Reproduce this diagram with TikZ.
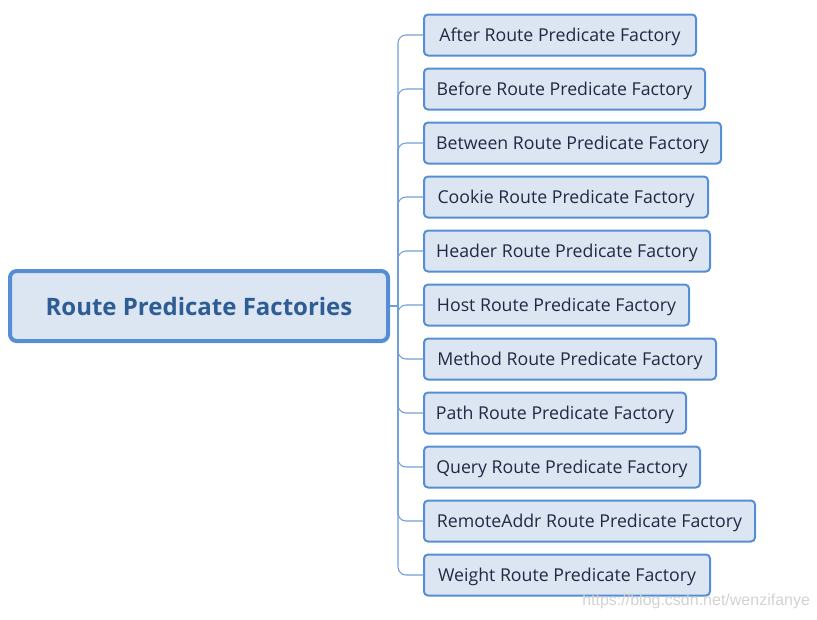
\documentclass[tikz,border=0pt]{standalone}
\usepackage{fontspec}
\setmainfont{Open Sans}
\setsansfont{Liberation Sans}
\definecolor{edgeblue}{HTML}{558ED5}
\definecolor{fillblue}{HTML}{DCE6F2}
\definecolor{roottext}{HTML}{2E5C94}
\definecolor{childtext}{HTML}{1F2A44}
\definecolor{linkblue}{HTML}{6F9FD8}
\definecolor{wmgray}{HTML}{D2D2D2}
\tikzset{
  rootbox/.style={draw=edgeblue, line width=3pt, fill=fillblue, rounded corners=5pt,
    minimum width=378*0.75pt, minimum height=70*0.75pt, inner sep=0pt,
    font=\fontsize{18pt}{21pt}\selectfont\bfseries, text=roottext},
  childbox/.style={draw=edgeblue, line width=1.5pt, fill=fillblue, rounded corners=3pt,
    minimum height=41*0.75pt, inner sep=0pt, anchor=west,
    text height=13.6pt, text depth=3.2pt,
    font=\fontsize{13.3pt}{16pt}\selectfont, text=childtext},
  link/.style={draw=linkblue, line width=0.8pt, rounded corners=6pt},
}
\begin{document}
\begin{tikzpicture}[x=0.75pt,y=-0.75pt]
\useasboundingbox (0,0) rectangle (817,619);
\node[rootbox] (root) at (199,306) {Route Predicate Factories};
\coordinate (spine) at (398,306);
\node[childbox, minimum width=272*0.75pt] (c1) at (423,35) {After Route Predicate Factory};
\node[childbox, minimum width=281*0.75pt] (c2) at (423,89) {Before Route Predicate Factory};
\node[childbox, minimum width=297*0.75pt] (c3) at (423,143) {Between Route Predicate Factory};
\node[childbox, minimum width=284*0.75pt] (c4) at (423,197) {Cookie Route Predicate Factory};
\node[childbox, minimum width=286*0.75pt] (c5) at (423,251) {Header Route Predicate Factory};
\node[childbox, minimum width=265*0.75pt] (c6) at (423,305) {Host Route Predicate Factory};
\node[childbox, minimum width=292*0.75pt] (c7) at (423,359) {Method Route Predicate Factory};
\node[childbox, minimum width=262*0.75pt] (c8) at (423,413) {Path Route Predicate Factory};
\node[childbox, minimum width=276*0.75pt] (c9) at (423,467) {Query Route Predicate Factory};
\node[childbox, minimum width=331*0.75pt] (c10) at (423,521) {RemoteAddr Route Predicate Factory};
\node[childbox, minimum width=286*0.75pt] (c11) at (423,575) {Weight Route Predicate Factory};
\draw[link] (root.east) -- (spine);
\foreach \c in {c1,c2,c3,c4,c5,c6,c7,c8,c9,c10,c11}{
  \draw[link] (spine) |- (\c.west);
}
\node[anchor=west, font=\sffamily\fontsize{12pt}{14pt}\selectfont, text=wmgray, inner sep=0pt] (wm) at (582,601) {https://blog.csdn.net/wenzifanye};
\end{tikzpicture}
\end{document}
